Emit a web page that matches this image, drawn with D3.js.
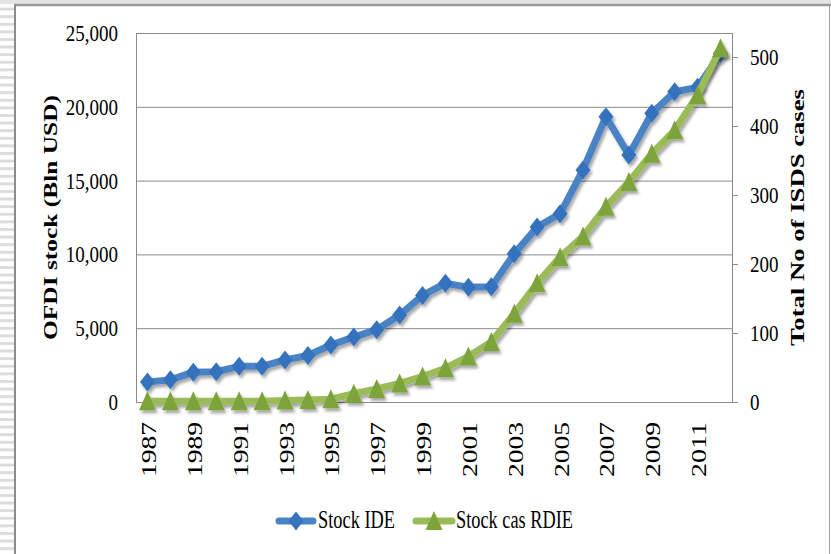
<!DOCTYPE html>
<html><head><meta charset="utf-8">
<script src="https://cdn.jsdelivr.net/npm/d3@7"></script>
<style>body{margin:0;background:#fff}svg{display:block}</style>
</head><body>
<svg id="c" width="831" height="554"></svg>
<script>
const years = d3.range(1987, 2013);
const yearLabels = [1987,1989,1991,1993,1995,1997,1999,2001,2003,2005,2007,2009,2011];
const stockIDE = [1350,1500,2020,2050,2420,2420,2850,3150,3860,4400,4900,5890,7220,8040,7780,7800,10050,11850,12750,15720,19330,16730,19560,21020,21320,23620];
const stockCas = [1,1,1,1,1,1,2,3,4,12,19,27,37,49,66,87,128,172,210,240,283,319,360,394,445,513];
const leftTicks = [0,5000,10000,15000,20000,25000];
const rightTicks = [0,100,200,300,400,500];
const seriesNames = ["Stock IDE","Stock cas RDIE"];
const leftTitle = "OFDI stock (Bln USD)";
const rightTitle = "Total No of ISDS cases";

const svg = d3.select("#c");
const defs = svg.append("defs");
const pat = defs.append("pattern").attr("id","stripes").attr("patternUnits","userSpaceOnUse")
  .attr("width",15).attr("height",7.6);
pat.append("rect").attr("x",0).attr("y",0).attr("width",15).attr("height",3).attr("fill","#dcdcdc");
const f = defs.append("filter").attr("id","sh").attr("x","-20%").attr("y","-20%").attr("width","140%").attr("height","140%");
f.append("feDropShadow").attr("dx",2).attr("dy",3).attr("stdDeviation",1.6).attr("flood-color","#000").attr("flood-opacity",0.35);

// slide background decorations
svg.append("rect").attr("x",0).attr("y",0).attr("width",831).attr("height",4).attr("fill","#e4e4e4");
svg.append("rect").attr("x",0).attr("y",4).attr("width",14).attr("height",550).attr("fill","url(#stripes)");
svg.append("line").attr("x1",15).attr("x2",831).attr("y1",5).attr("y2",5).attr("stroke","#9a9a9a").attr("stroke-width",2.5);
svg.append("line").attr("x1",15).attr("x2",15).attr("y1",4).attr("y2",554).attr("stroke","#8c8c8c").attr("stroke-width",2);
svg.append("line").attr("x1",829.5).attr("x2",829.5).attr("y1",5).attr("y2",554).attr("stroke","#a0a0a0").attr("stroke-width",1);

const L = 136, R = 732, T = 33, B = 402;
const x = d3.scalePoint().domain(years).range([L,R]).padding(0.5);
const yL = d3.scaleLinear().domain([0,25000]).range([B,T]);
const yR = d3.scaleLinear().domain([0,535]).range([B,T]);

// gridlines
svg.append("g").selectAll("line").data(leftTicks).join("line")
  .attr("x1",L).attr("x2",R).attr("y1",d=>yL(d)+0.5).attr("y2",d=>yL(d)+0.5)
  .attr("stroke","#8a8a8a").attr("stroke-width",1);
// axes lines
svg.append("line").attr("x1",L+0.5).attr("x2",L+0.5).attr("y1",T).attr("y2",B+0.5).attr("stroke","#8a8a8a");
svg.append("line").attr("x1",R+0.5).attr("x2",R+0.5).attr("y1",T).attr("y2",B+0.5).attr("stroke","#8a8a8a");
svg.append("line").attr("x1",L).attr("x2",R+6).attr("y1",B+0.5).attr("y2",B+0.5).attr("stroke","#8a8a8a");
// right ticks
svg.append("g").selectAll("line").data(rightTicks).join("line")
  .attr("x1",R).attr("x2",R+6).attr("y1",d=>Math.round(yR(d))+0.5).attr("y2",d=>Math.round(yR(d))+0.5)
  .attr("stroke","#8a8a8a");

const font = "'Liberation Serif','DejaVu Serif',serif";
const fmt = d3.format(",");
// left tick labels
svg.append("g").selectAll("text").data(leftTicks).join("text")
  .attr("transform",d=>`translate(118,${yL(d)}) scale(1,1.2)`)
  .attr("text-anchor","end").attr("dy","0.35em")
  .attr("font-family",font).attr("font-size",19).attr("fill","#000")
  .text(d=>fmt(d));
// right tick labels
svg.append("g").selectAll("text").data(rightTicks).join("text")
  .attr("transform",d=>`translate(750,${yR(d)}) scale(1,1.2)`)
  .attr("text-anchor","start").attr("dy","0.35em")
  .attr("font-family",font).attr("font-size",19).attr("fill","#000")
  .text(d=>d);
// year labels
svg.append("g").selectAll("text").data(yearLabels).join("text")
  .attr("transform",d=>`translate(${x(d)+1.5},422) rotate(-90)`)
  .attr("text-anchor","end").attr("dy","0.35em")
  .attr("font-family",font).attr("font-size",20).attr("fill","#000")
  .attr("textLength",55).attr("lengthAdjust","spacingAndGlyphs")
  .text(d=>d);
// axis titles
svg.append("text").attr("transform","translate(50,217.5) rotate(-90)")
  .attr("text-anchor","middle").attr("dy","0.35em")
  .attr("font-family",font).attr("font-weight","bold").attr("font-size",19)
  .attr("textLength",245).attr("lengthAdjust","spacingAndGlyphs").text(leftTitle);
svg.append("text").attr("transform","translate(797,217.5) rotate(-90)")
  .attr("text-anchor","middle").attr("dy","0.35em")
  .attr("font-family",font).attr("font-weight","bold").attr("font-size",19)
  .attr("textLength",257).attr("lengthAdjust","spacingAndGlyphs").text(rightTitle);

const diamond = "M0,-9.5L7.5,0L0,9.5L-7.5,0Z";
const triangle = "M0,-10L8.5,9L-8.5,9Z";
const blueLine = "#4a83c6", blueMk = "#3672bd";
const greenLine = "#9bbb59", greenMk = "#7ca43a";

const g1 = svg.append("g").attr("filter","url(#sh)");
g1.append("path").datum(stockIDE)
  .attr("d", d3.line().x((d,i)=>x(years[i])).y(d=>yL(d)))
  .attr("fill","none").attr("stroke",blueLine).attr("stroke-width",7)
  .attr("stroke-linejoin","round").attr("stroke-linecap","round");
g1.selectAll("path.m").data(stockIDE).join("path").attr("class","m")
  .attr("transform",(d,i)=>`translate(${x(years[i])},${yL(d)})`)
  .attr("d",diamond).attr("fill",blueMk);

const g2 = svg.append("g").attr("filter","url(#sh)");
g2.append("path").datum(stockCas)
  .attr("d", d3.line().x((d,i)=>x(years[i])).y(d=>yR(d)))
  .attr("fill","none").attr("stroke",greenLine).attr("stroke-width",7)
  .attr("stroke-linejoin","round").attr("stroke-linecap","round");
g2.selectAll("path.m").data(stockCas).join("path").attr("class","m")
  .attr("transform",(d,i)=>`translate(${x(years[i])},${yR(d)})`)
  .attr("d",triangle).attr("fill",greenMk);

// legend
const leg = [
  {name:seriesNames[0], x1:279, x2:313, mk:diamond, lc:blueLine, mc:blueMk, tx:318, tl:77},
  {name:seriesNames[1], x1:416, x2:452, mk:triangle, lc:greenLine, mc:greenMk, tx:456, tl:117}
];
const lg = svg.append("g");
leg.forEach(l=>{
  lg.append("line").attr("x1",l.x1).attr("x2",l.x2).attr("y1",521).attr("y2",521)
    .attr("stroke",l.lc).attr("stroke-width",7).attr("stroke-linecap","round");
  lg.append("path").attr("transform",`translate(${(l.x1+l.x2)/2},521)`).attr("d",l.mk).attr("fill",l.mc);
  lg.append("text").attr("transform",`translate(${l.tx},528) scale(1,1.35)`)
    .attr("font-family",font).attr("font-size",18).attr("fill","#000")
    .attr("textLength",l.tl).attr("lengthAdjust","spacingAndGlyphs").text(l.name);
});
</script>
</body></html>
